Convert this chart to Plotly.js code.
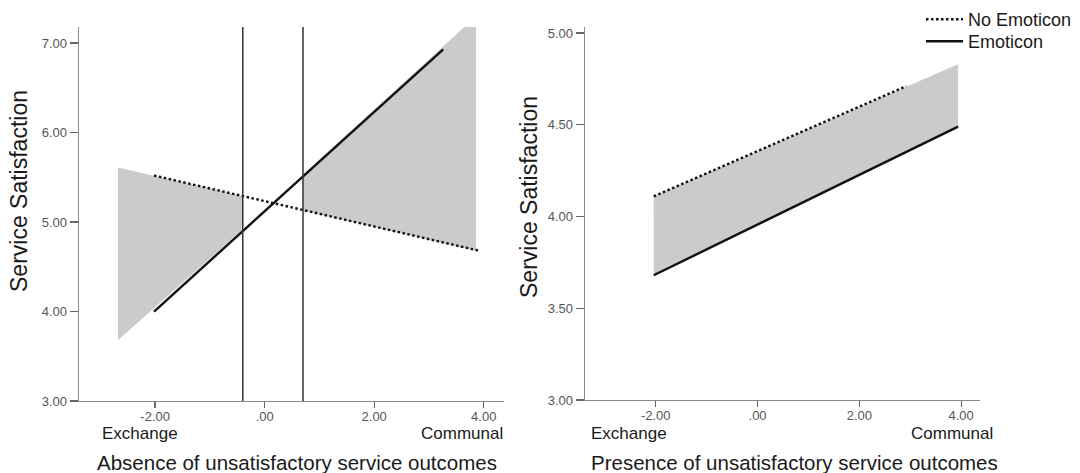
<!DOCTYPE html>
<html>
<head>
<meta charset="utf-8">
<script src="https://cdn.plot.ly/plotly-3.0.1.min.js"></script>
<style>
  html, body { margin: 0; padding: 0; background: #ffffff; }
  #chart { width: 1080px; height: 473px; }
</style>
</head>
<body>
<div id="chart"></div>
<script>
// ---- Data ----
const xTickVals = [-2, 0, 2, 4];
const xTickText = ['-2.00', '.00', '2.00', '4.00'];
const leftYTickVals = [3, 4, 5, 6, 7];
const leftYTickText = ['3.00', '4.00', '5.00', '6.00', '7.00'];
const rightYTickVals = [3, 3.5, 4, 4.5, 5];
const rightYTickText = ['3.00', '3.50', '4.00', '4.50', '5.00'];

const seriesNames = ['No Emoticon', 'Emoticon'];

// Left panel: Absence of unsatisfactory service outcomes
const absNoEmoX = [-2.02, 3.91];
const absNoEmoY = [5.52, 4.68];
const absEmoX = [-2.02, 3.26];
const absEmoY = [4.00, 6.93];
const absJN = [-0.40, 0.70];
const absRegionLowX = [-2.68, -0.40, -0.40, -2.68];
const absRegionLowY = [5.61, 5.29, 4.92, 3.68];
const absRegionHighX = [0.70, 3.86, 3.86, 0.70];
const absRegionHighY = [5.53, 7.30, 4.68, 5.13];

// Right panel: Presence of unsatisfactory service outcomes
const preNoEmoX = [-2.04, 2.92];
const preNoEmoY = [4.11, 4.71];
const preEmoX = [-2.04, 3.94];
const preEmoY = [3.68, 4.49];
const preRegionX = [-2.04, 3.94, 3.94, -2.04];
const preRegionY = [4.11, 4.83, 4.49, 3.68];

// ---- Styling ----
const FONT = 'Liberation Sans, Arial, Helvetica, sans-serif';
const fillColor = '#cbcbcb';
const lineColor = '#111111';
const axisColor = '#8a8a8a';

function region(x, y, xa, ya) {
  return { x: x, y: y, xaxis: xa, yaxis: ya, type: 'scatter', mode: 'lines',
    fill: 'toself', fillcolor: fillColor, line: { width: 0, color: fillColor },
    showlegend: false, hoverinfo: 'skip' };
}
function line(x, y, xa, ya, name, dotted, legendId) {
  const t = { x: x, y: y, xaxis: xa, yaxis: ya, type: 'scatter', mode: 'lines', name: name,
    showlegend: !!legendId,
    line: { color: lineColor, width: 2.4, dash: dotted ? '2.5px,2.5px' : 'solid' } };
  if (legendId) t.legend = legendId;
  return t;
}

const data = [
  region(absRegionLowX, absRegionLowY, 'x', 'y'),
  region(absRegionHighX, absRegionHighY, 'x', 'y'),
  region(preRegionX, preRegionY, 'x2', 'y2'),
  line(absNoEmoX, absNoEmoY, 'x', 'y', seriesNames[0], true, 'legend'),
  line(absEmoX, absEmoY, 'x', 'y', seriesNames[1], false, 'legend2'),
  line(preNoEmoX, preNoEmoY, 'x2', 'y2', seriesNames[0], true, null),
  line(preEmoX, preEmoY, 'x2', 'y2', seriesNames[1], false, null)
];

function xAxis(domain, anchor) {
  return { domain: domain, anchor: anchor, range: [-3.39, 4.37],
    tickvals: xTickVals, ticktext: xTickText,
    showgrid: false, zeroline: false, showline: true, linecolor: axisColor, linewidth: 1.3,
    ticks: 'outside', ticklen: 6, tickwidth: 1.3, tickcolor: '#666', ticklabelstandoff: -3,
    tickfont: { family: FONT, size: 13, color: '#555' } };
}
function yAxis(domain, anchor, range, vals, text) {
  return { domain: domain, anchor: anchor, range: range,
    tickvals: vals, ticktext: text,
    showgrid: false, zeroline: false, showline: true, linecolor: axisColor, linewidth: 1.3,
    ticks: 'outside', ticklen: 8, tickwidth: 1.3, tickcolor: '#666',
    tickfont: { family: FONT, size: 13, color: '#555' } };
}

const W = 1080, H = 473;
const px = v => v / W;
const py = v => 1 - v / H;

const shapes = absJN.map(v => ({
  type: 'line', xref: 'x', yref: 'y domain', x0: v, x1: v, y0: 0, y1: 1,
  line: { color: '#333333', width: 1.5 }, layer: 'above'
}));

function ann(text, x, y, size, opts) {
  return Object.assign({ text: text, xref: 'paper', yref: 'paper', x: x, y: y,
    xanchor: 'center', yanchor: 'middle',
    showarrow: false, font: { family: FONT, size: size, color: '#1a1a1a' } }, opts || {});
}

const annotations = [
  ann('Service Satisfaction', px(19), py(191), 23, { textangle: -90 }),
  ann('Service Satisfaction', px(529), py(197), 23, { textangle: -90 }),
  ann('Absence of unsatisfactory service outcomes', px(297), py(462), 20.5),
  ann('Presence of unsatisfactory service outcomes', px(794), py(462), 20.5),
  ann('Exchange', px(100), py(433), 17, { xanchor: 'left' }),
  ann('Communal', px(505), py(433), 17, { xanchor: 'right' }),
  ann('Exchange', px(589), py(433), 17, { xanchor: 'left' }),
  ann('Communal', px(995), py(433), 17, { xanchor: 'right' })
];

function legendBox(yTop) {
  return { x: px(921), y: py(yTop), xanchor: 'left', yanchor: 'top',
    bgcolor: 'rgba(0,0,0,0)', borderwidth: 0, itemwidth: 37,
    font: { family: FONT, size: 18, color: '#1a1a1a' } };
}

const layout = {
  width: W, height: H,
  margin: { l: 0, r: 0, t: 0, b: 0 },
  paper_bgcolor: '#ffffff', plot_bgcolor: '#ffffff',
  xaxis: xAxis([px(79), px(504)], 'y'),
  yaxis: yAxis([1 - 401 / H, 1 - 27 / H], 'x', [3, 7.18], leftYTickVals, leftYTickText),
  xaxis2: xAxis([px(585), px(980)], 'y2'),
  yaxis2: yAxis([1 - 400 / H, 1 - 27 / H], 'x2', [3, 5.033], rightYTickVals, rightYTickText),
  shapes: shapes,
  annotations: annotations,
  showlegend: true,
  legend: legendBox(1),
  legend2: legendBox(23),
  hovermode: false
};

Plotly.newPlot('chart', data, layout, { displayModeBar: false, staticPlot: true });
</script>
</body>
</html>
